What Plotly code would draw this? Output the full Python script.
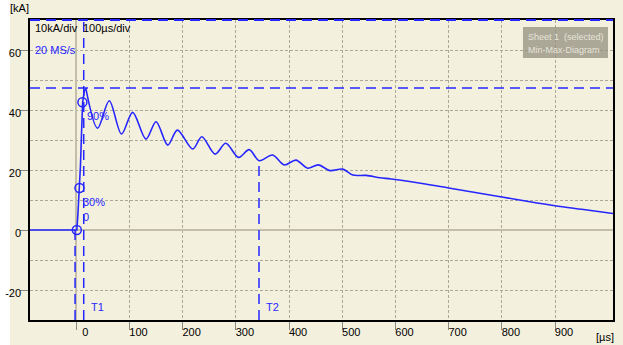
import plotly.graph_objects as go

# ---------------- data ----------------
rise_t = [-87, -2, 1, 3, 6, 8, 10, 12, 15, 18]
rise_kA = [0, 0, 0, 5, 14, 22, 33, 42.6, 46.2, 47.2]

decay_t = [18, 40, 62, 85, 106, 131, 150, 172, 190, 219, 236, 261, 281, 305, 325,
           344, 369, 391, 413, 435, 455, 477, 501, 520, 545, 571, 592, 650, 700,
           750, 800, 850, 900, 950, 1009]
decay_kA = [47.2, 33.9, 43.1, 32.0, 39.2, 30.3, 36.1, 28.3, 33.3, 27.0, 31.1, 25.3,
            28.9, 24.2, 26.8, 23.1, 25.0, 21.7, 23.3, 20.6, 21.7, 19.8, 20.3, 18.3,
            18.2, 17.4, 17.0, 15.5, 14.0, 12.5, 11.0, 9.5, 8.1, 6.9, 5.5]

marker_t = [1, 6, 11.5]
marker_kA = [0, 14, 42.6]
marker_labels = ["0", "30%", "90%"]

x_ticks = [0, 100, 200, 300, 400, 500, 600, 700, 800, 900]
y_ticks = [-20, 0, 20, 40, 60]
y_ticklabels = ["-20", "0", "20", "40", "60"]

peak_kA = 47.3
t1 = 14
t2 = 343.5
t2_kA = 23.2
t0_line = -2.3

x_range = [-87, 1009]
y_range = [-30, 70]

BLUE = "#2626ff"
BG = "#f4f0de"
GRID = "#aba897"
FONT = "Liberation Sans Narrow, Liberation Sans, Arial, sans-serif"

fig = go.Figure()

fig.add_trace(go.Scatter(x=rise_t, y=rise_kA, mode="lines",
                         line=dict(color=BLUE, width=1.6), showlegend=False))
fig.add_trace(go.Scatter(x=decay_t, y=decay_kA, mode="lines",
                         line=dict(color=BLUE, width=1.6, shape="spline", smoothing=0.9),
                         showlegend=False))
fig.add_trace(go.Scatter(x=marker_t, y=marker_kA, mode="markers",
                         marker=dict(symbol="circle-open", size=9, color=BLUE,
                                     line=dict(width=1.5, color=BLUE)),
                         showlegend=False))

# beige panel (white strip on the far left like the reference)
fig.add_shape(type="rect", xref="paper", yref="paper", x0=-0.0343, x1=1.02, y0=-0.09, y1=1.07,
              fillcolor=BG, line=dict(width=0), layer="below")

dash = "10px,6px"
fig.add_shape(type="line", xref="paper", yref="y", x0=0, x1=1, y0=peak_kA, y1=peak_kA,
              line=dict(color=BLUE, width=1.5, dash=dash))
fig.add_shape(type="line", xref="paper", yref="paper", x0=0, x1=1, y0=1, y1=1,
              line=dict(color=BLUE, width=2, dash=dash))
fig.add_shape(type="line", xref="x", yref="paper", x0=t1, x1=t1, y0=0, y1=1,
              line=dict(color=BLUE, width=1.5, dash=dash))
fig.add_shape(type="line", xref="x", yref="y", x0=t0_line, x1=t0_line, y0=y_range[0], y1=0,
              line=dict(color=BLUE, width=1.5, dash=dash))
fig.add_shape(type="line", xref="x", yref="y", x0=t2, x1=t2, y0=y_range[0], y1=t2_kA,
              line=dict(color=BLUE, width=1.5, dash=dash))

fig.add_shape(type="rect", xref="paper", yref="paper", x0=0.8456, x1=0.9914, y0=0.8733, y1=0.9767,
              fillcolor="rgba(150,147,132,0.78)", line=dict(width=0), layer="above")

ann = []
def txt(text, x, y, xref="x", yref="y", color="black", size=12, xanchor="left"):
    ann.append(dict(text=text, x=x, y=y, xref=xref, yref=yref, showarrow=False,
                    font=dict(color=color, size=size, family=FONT), xanchor=xanchor,
                    yanchor="middle"))

txt("Sheet 1  (selected)", 0.85, 0.943, "paper", "paper", "#e8e5d8", 9)
txt("Min-Max-Diagram", 0.85, 0.9, "paper", "paper", "#e8e5d8", 9)
txt("[kA]", -0.037, 1.04, "paper", "paper", size=11)
txt("10kA/div", 0.005, 0.975, "paper", "paper", size=11)
txt("100µs/div", 0.087, 0.975, "paper", "paper", size=11)
txt("20 MS/s", 0.005, 0.9, "paper", "paper", BLUE, 11)
txt("[µs]", 0.968, -0.057, "paper", "paper", size=11)
txt("T1", t1 + 9, -25.5, color=BLUE, size=11)
txt("T2", t2 + 9, -25.5, color=BLUE, size=11)
txt(marker_labels[0], 8, 4.4, color=BLUE, size=11)
txt(marker_labels[1], 8, 9.3, color=BLUE, size=11)
txt(marker_labels[2], 16, 38.0, color=BLUE, size=11)

fig.update_layout(
    width=623, height=345,
    margin=dict(l=30, r=10, t=20, b=25),
    paper_bgcolor="white", plot_bgcolor=BG,
    font=dict(family=FONT, size=11, color="black"),
    annotations=ann,
    showlegend=False,
)
fig.update_xaxes(
    range=x_range, tickvals=x_ticks, automargin=False,
    showgrid=True, gridcolor=GRID, griddash="3px,2px", gridwidth=1,
    zeroline=True, zerolinecolor="#c2bea9", zerolinewidth=2,
    showline=True, linecolor="black", linewidth=1.5, mirror=True,
    ticks="outside", ticklen=8, tickcolor="#888", tickwidth=1,
    ticklabelstandoff=-7, ticklabelshift=9,
)
fig.update_yaxes(
    range=y_range, tickvals=y_ticks, ticktext=y_ticklabels, automargin=False,
    showgrid=True, gridcolor=GRID, griddash="3px,2px", gridwidth=1,
    minor=dict(dtick=10, tick0=0, showgrid=True, gridcolor=GRID, griddash="3px,2px", gridwidth=1),
    zeroline=True, zerolinecolor="#c2bea9", zerolinewidth=2,
    showline=True, linecolor="black", linewidth=1.5, mirror=True,
    ticks="outside", ticklen=8, tickcolor="#888", tickwidth=1,
    ticklabelstandoff=-3, ticklabelshift=3,
)

fig.write_html("out.html", config={"displayModeBar": False},
               post_script="document.body.style.margin='0';document.body.style.overflow='hidden';")
